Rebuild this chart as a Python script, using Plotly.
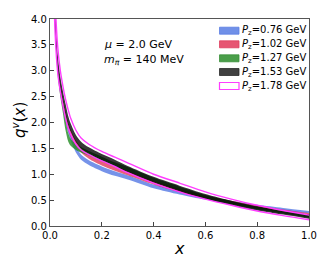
import plotly.graph_objects as go

x = [0.012, 0.02, 0.03, 0.04, 0.05, 0.06, 0.07, 0.08, 0.1, 0.12, 0.15, 0.2, 0.25, 0.3, 0.4, 0.5, 0.6, 0.7, 0.8, 0.9, 1.0]

blue_lo = [5.2, 3.75, 2.95, 2.55, 2.25, 2.0, 1.8, 1.65, 1.42, 1.28, 1.18, 1.06, 0.97, 0.9, 0.73, 0.61, 0.51, 0.43, 0.35, 0.29, 0.245]
blue_hi = [5.6, 3.95, 3.1, 2.7, 2.4, 2.15, 1.95, 1.78, 1.54, 1.38, 1.27, 1.15, 1.06, 0.98, 0.8, 0.68, 0.57, 0.49, 0.41, 0.35, 0.29]
red_lo = [5.3, 3.8, 3.0, 2.6, 2.3, 2.06, 1.86, 1.72, 1.53, 1.42, 1.3, 1.17, 1.07, 0.98, 0.8, 0.65, 0.53, 0.43, 0.34, 0.27, 0.2]
red_hi = [5.7, 4.0, 3.15, 2.75, 2.45, 2.2, 2.0, 1.86, 1.65, 1.52, 1.4, 1.26, 1.16, 1.07, 0.88, 0.72, 0.59, 0.49, 0.4, 0.32, 0.25]
green_lo = [5.1, 3.7, 2.9, 2.5, 2.18, 1.85, 1.64, 1.55, 1.47, 1.42, 1.36, 1.25, 1.15, 1.06, 0.86, 0.69, 0.54, 0.42, 0.32, 0.24, 0.16]
green_hi = [5.5, 3.9, 3.05, 2.65, 2.36, 2.05, 1.8, 1.68, 1.58, 1.52, 1.45, 1.34, 1.23, 1.14, 0.93, 0.76, 0.6, 0.48, 0.37, 0.29, 0.21]
black_lo = [5.4, 3.85, 3.05, 2.65, 2.4, 2.15, 1.95, 1.82, 1.62, 1.5, 1.4, 1.27, 1.16, 1.04, 0.84, 0.67, 0.52, 0.4, 0.3, 0.22, 0.14]
black_hi = [5.9, 4.1, 3.3, 2.88, 2.6, 2.36, 2.13, 1.98, 1.76, 1.63, 1.52, 1.39, 1.28, 1.16, 0.95, 0.78, 0.62, 0.49, 0.38, 0.29, 0.22]
mag_lo = [5.0, 3.7, 2.95, 2.6, 2.32, 2.08, 1.9, 1.77, 1.58, 1.47, 1.38, 1.26, 1.15, 1.03, 0.83, 0.66, 0.52, 0.4, 0.29, 0.2, 0.12]
mag_hi = [6.2, 4.35, 3.45, 3.0, 2.7, 2.45, 2.25, 2.08, 1.85, 1.7, 1.58, 1.44, 1.33, 1.22, 1.0, 0.83, 0.66, 0.52, 0.4, 0.3, 0.21]

labels = ["0.76", "1.02", "1.27", "1.53", "1.78"]

fills = ["rgba(65,105,225,0.72)", "rgba(220,20,60,0.68)", "rgba(34,139,34,0.8)", "rgba(0,0,0,0.78)", "rgba(255,255,255,0)"]
edges = ["rgba(65,105,225,0.72)", "rgba(220,20,60,0.68)", "rgba(34,139,34,0.8)", "rgba(0,0,0,0.78)", "#ff3dff"]
leg_fill = ["#7090e8", "#e65572", "#4a9e4a", "#404040", "white"]
leg_edge = ["#5c7fe3", "#de3f60", "#3a913a", "#2a2a2a", "#ff3dff"]

los = [blue_lo, red_lo, green_lo, black_lo, mag_lo]
his = [blue_hi, red_hi, green_hi, black_hi, mag_hi]

fig = go.Figure()
for i, lab in enumerate(labels):
    lw = 1.4 if i == 4 else 0
    fig.add_trace(go.Scatter(x=x, y=los[i], mode="lines",
                             line=dict(color=edges[i], width=lw, shape="spline", smoothing=0.8),
                             showlegend=False, hoverinfo="skip"))
    fig.add_trace(go.Scatter(x=x, y=his[i], mode="lines", fill="tonexty", fillcolor=fills[i],
                             line=dict(color=edges[i], width=lw, shape="spline", smoothing=0.8),
                             name=f"<i>P</i><sub>z</sub>={lab} GeV", showlegend=False))

# target plot area in screenshot pixels: x 50..309, y 19..226 (page offsets figure by ~8px)
OFFX, OFFY = 8, 8
W, H = 332, 266
L, T = 50 - OFFX, 19 - OFFY
pw, ph = 259, 207
R = W - L - pw
B = H - T - ph

def px2x(p):
    return (p - OFFX - L) / pw

def py2y(p):
    return (T + ph - (p - OFFY)) / ph

shapes = []
annotations = []
rows = [30.7, 44.3, 58.3, 72.0, 86.0]
for i, lab in enumerate(labels):
    yc = rows[i]
    shapes.append(dict(type="rect", xref="paper", yref="paper",
                       x0=px2x(219.5), x1=px2x(239), y0=py2y(yc + 3.5), y1=py2y(yc - 3.5),
                       fillcolor=leg_fill[i], line=dict(color=leg_edge[i], width=1.2 if i == 4 else 0.8)))
    annotations.append(dict(x=px2x(240), y=py2y(yc), xref="paper", yref="paper", xanchor="left",
                            yanchor="middle", showarrow=False,
                            text=f"<i>P</i><sub>z</sub>={lab} GeV", font=dict(size=10)))

annotations += [
    dict(x=0.2, y=3.5, xref="x", yref="y", xanchor="left", yanchor="middle", showarrow=False,
         text="<i>μ</i> = 2.0 GeV", font=dict(size=11)),
    dict(x=0.2, y=3.2, xref="x", yref="y", xanchor="left", yanchor="middle", showarrow=False,
         text="<i>m</i><sub><i>π</i></sub> = 140 MeV", font=dict(size=11)),
    dict(x=px2x(179), y=py2y(248), xref="paper", yref="paper", xanchor="center", yanchor="middle",
         showarrow=False, text="<i>x</i>", font=dict(size=16)),
    dict(x=px2x(19), y=py2y(120), xref="paper", yref="paper", xanchor="center", yanchor="middle",
         showarrow=False, textangle=-90, text="<i>q</i><sup><i>v</i></sup>(<i>x</i>)", font=dict(size=15)),
]

font = "DejaVu Sans"
fig.update_layout(
    width=W, height=H,
    margin=dict(l=L, r=R, t=T, b=B),
    paper_bgcolor="white", plot_bgcolor="white",
    font=dict(family=font, size=10, color="black"),
    showlegend=False,
    xaxis=dict(range=[0, 1], tickvals=[0, 0.2, 0.4, 0.6, 0.8, 1.0],
               ticktext=["0.0", "0.2", "0.4", "0.6", "0.8", "1.0"],
               ticks="inside", ticklen=4, tickcolor="#444", showline=True, linecolor="#555", linewidth=1.2,
               mirror=True, showgrid=False, zeroline=False, automargin=False),
    yaxis=dict(range=[0, 4], tickvals=[0, 0.5, 1, 1.5, 2, 2.5, 3, 3.5, 4],
               ticktext=["0.0", "0.5", "1.0", "1.5", "2.0", "2.5", "3.0", "3.5", "4.0"],
               ticks="inside", ticklen=4, tickcolor="#444", showline=True, linecolor="#555", linewidth=1.2,
               mirror=True, showgrid=False, zeroline=False, automargin=False),
    shapes=shapes,
    annotations=annotations,
)

fig.write_html("out.html")
